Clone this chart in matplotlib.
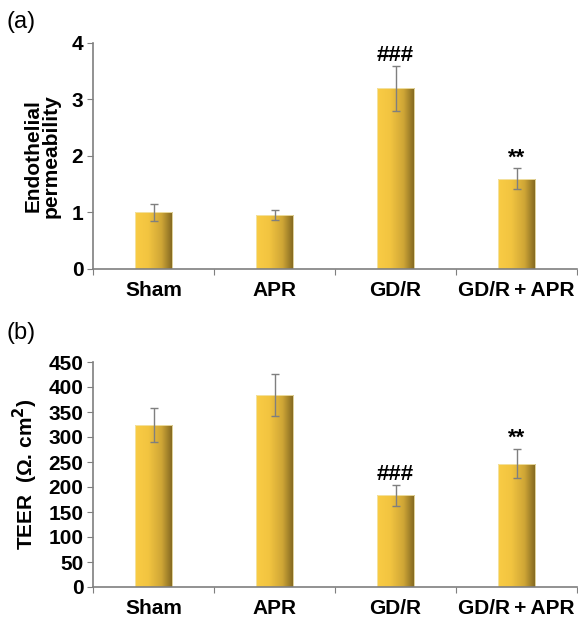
import matplotlib
matplotlib.use("Agg")
import matplotlib.pyplot as plt
import numpy as np
from matplotlib.colors import LinearSegmentedColormap

plt.rcParams['font.family'] = ['Liberation Sans', 'DejaVu Sans']

categories = ["Sham", "APR", "GD/R", "GD/R\u2009+\u2009APR"]
perm_values = [1.0, 0.95, 3.2, 1.6]
perm_errors = [0.15, 0.09, 0.40, 0.18]
perm_marks = ["", "", "###", "**"]
teer_values = [324, 384, 184, 247]
teer_errors = [34, 42, 21, 29]
teer_marks = ["", "", "###", "**"]

cmap = LinearSegmentedColormap.from_list(
    "gold", [(0.0, "#F9CC45"), (0.35, "#F2C440"), (0.7, "#CFA636"), (1.0, "#7E6420")])

W, H = 578, 621
fig = plt.figure(figsize=(W / 100, H / 100), dpi=100)

def gradient_bars(ax, values, errors, marks, ylim, yticks, mark_off):
    x = np.arange(len(values))
    bars = ax.bar(x, values, width=0.31, color="none", edgecolor="#f3e6b0", linewidth=0.6, zorder=2)
    grad = np.linspace(0, 1, 256).reshape(1, -1)
    for b in bars:
        bx, by = b.get_x(), b.get_y()
        im = ax.imshow(grad, cmap=cmap, aspect="auto",
                       extent=[bx, bx + b.get_width(), by, by + b.get_height()],
                       zorder=1.5, interpolation="bilinear")
        im.set_clip_path(b)
    ax.errorbar(x, values, yerr=errors, fmt="none", ecolor="#7f7f7f",
                elinewidth=1.0, capsize=3, capthick=1.0, zorder=3)
    for xi, v, e, m in zip(x, values, errors, marks):
        if m:
            ax.text(xi, v + e + mark_off, m, ha="center", va="bottom",
                    fontsize=16, fontweight="bold", color="black")
    ax.set_xlim(-0.5, 3.5)
    ax.set_ylim(*ylim)
    ax.set_yticks(yticks)
    ax.set_xticks(np.arange(-0.5, 4.0, 1.0), minor=False)
    ax.set_xticklabels([])
    ax.set_xticks(x, minor=True)
    ax.set_xticklabels(categories, minor=True, fontsize=15, fontweight="bold")
    ax.tick_params(axis="x", which="minor", length=0, pad=9)
    ax.tick_params(axis="x", which="major", length=4, color="#7f7f7f", direction="out")
    ax.tick_params(axis="y", length=4, color="#7f7f7f", direction="out", labelsize=15, pad=3)
    for lab in ax.get_yticklabels():
        lab.set_fontweight("bold")
    for s in ["top", "right"]:
        ax.spines[s].set_visible(False)
    for s in ["left", "bottom"]:
        ax.spines[s].set_color("#7f7f7f")
        ax.spines[s].set_linewidth(1.2)

ax1 = fig.add_axes([93 / W, 1 - 269 / H, 484 / W, 226 / H])
gradient_bars(ax1, perm_values, perm_errors, perm_marks, (0, 4), [0, 1, 2, 3, 4], 0.0)
ax1.set_ylabel("Endothelial\npermeability", fontsize=15, fontweight="bold", labelpad=8, linespacing=0.95)

ax2 = fig.add_axes([93 / W, 1 - 587 / H, 484 / W, 225 / H])
gradient_bars(ax2, teer_values, teer_errors, teer_marks, (0, 450), list(range(0, 451, 50)), 0)
ax2.set_ylabel("TEER  (Ω. cm$^\\mathbf{2}$)", fontsize=15, fontweight="bold", labelpad=6)

fig.text(6 / W, 1 - 22 / H, "(a)", fontsize=17, va="center", ha="left")
fig.text(6 / W, 1 - 333 / H, "(b)", fontsize=17, va="center", ha="left")

fig.savefig("out.png", dpi=100)
